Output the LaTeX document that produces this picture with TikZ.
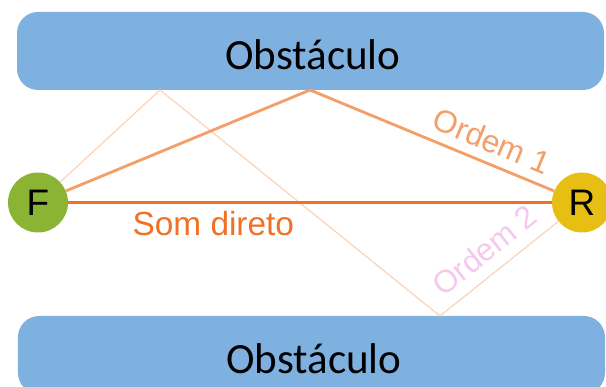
\documentclass[tikz,border=0pt]{standalone}
\usepackage{fontspec}
\setmainfont{Liberation Sans}
\newfontfamily\obsfont{Carlito}
\usepackage{tikz}
\usetikzlibrary{positioning,calc}
\usepackage{xcolor}
\definecolor{ObsBlue}{RGB}{127,177,224}
\definecolor{SrcGreen}{RGB}{140,180,52}
\definecolor{RecYellow}{RGB}{230,190,20}
\definecolor{DirOrange}{RGB}{242,112,36}
\definecolor{OneOrange}{RGB}{244,158,104}
\definecolor{TwoPeach}{RGB}{250,212,186}
\definecolor{TwoPink}{RGB}{245,200,238}

\begin{document}
\begin{tikzpicture}[
    obstacle/.style={rectangle, fill=ObsBlue, rounded corners=12pt,
                     minimum width=11.74cm, minimum height=1.56cm},
    obslabel/.style={font=\obsfont\fontsize{24.5}{27}\selectfont},
    point/.style={circle, minimum size=1.2cm, inner sep=0pt,
                  font=\fontsize{21}{23}\selectfont},
    direct/.style={DirOrange, line width=1.2pt},
    first/.style={OneOrange, line width=1.6pt},
    second/.style={TwoPeach, line width=0.7pt},
    order/.style={sloped, font=\fontsize{18}{20}\selectfont}
]
    \clip (0,0) rectangle (12.12,7.74);

    \node[obstacle] (top) at (6.21,6.72) {};
    \node[obstacle] (bottom) at (6.23,0.64) {};
    \node[obslabel] (topText) at ([xshift=0.05cm,yshift=-0.07cm]top.center) {Obstáculo};
    \node[obslabel] (bottomText) at ([xshift=0.05cm,yshift=-0.07cm]bottom.center) {Obstáculo};

    \node[point, fill=SrcGreen] (F) at (0.76,3.69) {F};
    \node[point, fill=RecYellow] (R) at (11.64,3.69) {R};

    \coordinate (hit1) at (6.2,5.94);
    \coordinate (hit2a) at (3.2,5.94);
    \coordinate (hit2b) at (8.8,1.42);

    \draw[second] (F) -- (hit2a) -- (hit2b) -- (R)
        node[order, pos=0.5, above=3pt, text=TwoPink] {Ordem 2};
    \draw[first] (F) -- (hit1) -- (R)
        node[order, pos=0.71, above=2pt, text=OneOrange] {Ordem 1};
    \draw[direct] (F) -- (R)
        node[pos=0.3, below=1pt, text=DirOrange,
             font=\fontsize{19}{21}\selectfont] {Som direto};
\end{tikzpicture}
\end{document}
